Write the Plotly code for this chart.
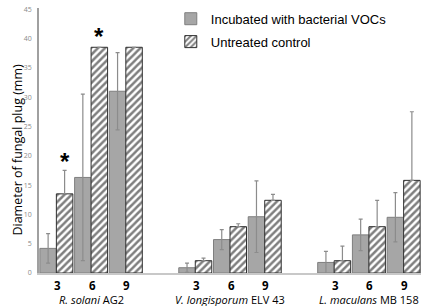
import plotly.graph_objects as go
import math

NaN = float("nan")
# slot positions: 3 groups of 3 days, with one empty slot between groups
slots = [0, 1, 2, 4, 5, 6, 8, 9, 10]
day_labels = ["3", "6", "9", "3", "6", "9", "3", "6", "9"]
species = ["<i>R. solani</i> AG2", "<i>V. longisporum</i> ELV 43", "<i>L. maculans</i> MB 158"]
species_slot = [1, 5, 9]

voc_mean = [4.2, 16.3, 31.0, 0.9, 5.7, 9.6, 1.8, 6.5, 9.5]
voc_err = [2.5, 14.2, 6.6, 0.8, 1.7, 6.1, 1.9, 2.7, 4.2]
ctl_mean = [13.5, 38.5, 38.5, 2.1, 7.9, 12.4, 2.1, 7.9, 15.8]
ctl_err = [4.0, NaN, NaN, 0.45, 0.5, 1.0, 2.5, 4.5, 11.7]
star_slots = [0, 1]
star_y = [19.0, 40.4]

fig = go.Figure()
fig.add_trace(go.Bar(
    x=slots, y=voc_mean, name="Incubated with bacterial VOCs",
    legendgroup="a",
    marker=dict(color="#a6a6a6", line=dict(color="#7f7f7f", width=1)),
    error_y=dict(type="data", array=voc_err, visible=True, color="#8c8c8c",
                 thickness=1.2, width=2),
))
fig.add_trace(go.Bar(
    x=slots, y=ctl_mean, name="Untreated control",
    legendgroup="b",
    marker=dict(color="white", line=dict(color="#303030", width=1),
                pattern=dict(shape="/", fgcolor="black", bgcolor="white",
                             size=5, solidity=0.5)),
    error_y=dict(type="data", array=ctl_err, arrayminus=[0 if not math.isnan(e) else NaN for e in ctl_err],
                 symmetric=False, visible=True, color="#8c8c8c",
                 thickness=1.2, width=2),
))

FONT = "Open Sans, Liberation Sans"
ann = []
for s, d in zip(slots, day_labels):
    ann.append(dict(x=s, y=0, yref="paper", text="<b>" + d + "</b>", showarrow=False,
                    yanchor="middle", yshift=-12.5, xshift=1,
                    font=dict(family=FONT, size=11.5, color="black")))
for s, sp in zip(species_slot, species):
    ann.append(dict(x=s, y=0, yref="paper", text=sp, showarrow=False,
                    yanchor="middle", yshift=-26,
                    font=dict(family=FONT, size=11, color="black")))
ann.append(dict(x=10.58, y=0, yref="paper", text="<b>days</b>", showarrow=False,
                xanchor="left", yanchor="middle", yshift=-12.5,
                font=dict(family=FONT, size=11.5, color="black")))
for s, yv in zip(star_slots, star_y):
    ann.append(dict(x=s + 0.24, y=yv, text="<b>*</b>", showarrow=False,
                    yanchor="middle",
                    font=dict(family="Liberation Sans", size=24, color="black")))
ann.append(dict(x=-0.083, xref="paper", y=0.465, yref="paper",
                text="Diameter of fungal plug (mm)", textangle=-90, showarrow=False,
                font=dict(family=FONT, size=12.5, color="black")))

fig.update_layout(
    width=447, height=306,
    margin=dict(l=39, r=26, t=4, b=33),
    paper_bgcolor="white", plot_bgcolor="white",
    barmode="group", bargap=0.05, bargroupgap=0.0,
    showlegend=True,
    legend=dict(x=0.345, y=1.016, xanchor="left", yanchor="top",
                font=dict(family="Liberation Sans, Arial", size=13, color="black"),
                traceorder="grouped", tracegroupgap=3, bgcolor="rgba(0,0,0,0)"),
    xaxis=dict(range=[-0.5, 10.5], showticklabels=False, ticks="",
               showline=True, linecolor="#c8c8c8", linewidth=2, showgrid=False,
               zeroline=False, automargin=False),
    yaxis=dict(range=[0, 45.2], tickmode="linear", tick0=0, dtick=5,
               showline=True, linecolor="#a0a0a0", linewidth=1.5, showgrid=False,
               zeroline=False, ticks="outside", ticklen=4, tickcolor="rgba(0,0,0,0)",
               automargin=False,
               tickfont=dict(family=FONT, size=7, color="#8a8a8a")),
    annotations=ann,
)

fig.write_html("out.html", config={"displayModeBar": False},
               post_script="document.body.style.margin='0';document.body.style.overflow='hidden';")
